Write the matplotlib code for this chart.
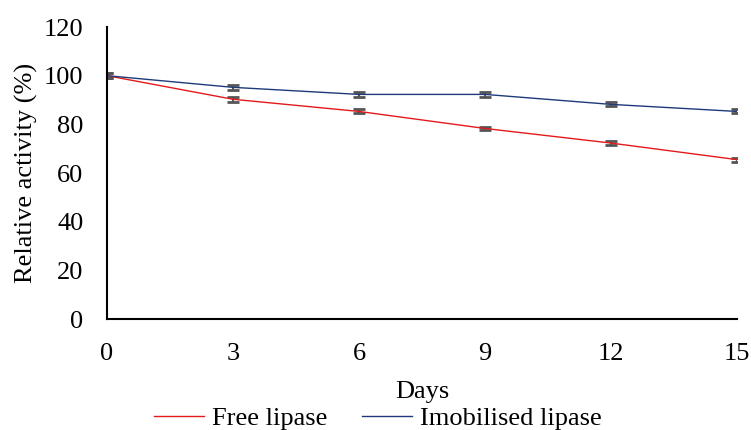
import matplotlib.pyplot as plt

days = [0, 3, 6, 9, 12, 15]
free_lipase = [100, 90.3, 85.3, 78.3, 72.3, 65.5]
free_err = [1.0, 1.0, 0.8, 0.8, 0.8, 0.8]
imob_lipase = [100, 95.2, 92.3, 92.3, 88.2, 85.3]
imob_err = [1.0, 1.0, 1.0, 1.0, 0.8, 0.8]

plt.rcParams["font.family"] = ["Liberation Serif", "DejaVu Serif"]
FS = 19

fig = plt.figure(figsize=(7.51, 4.30), dpi=100)
ax = fig.add_axes([107 / 751, 111 / 430, 630 / 751, 292 / 430])

ax.errorbar(days, free_lipase, yerr=free_err, color="#e31a1c", linewidth=1.0,
            ecolor="#555555", elinewidth=1.5, capsize=4, capthick=2, label="Free lipase")
ax.errorbar(days, imob_lipase, yerr=imob_err, color="#1f3a7a", linewidth=1.0,
            ecolor="#555555", elinewidth=1.5, capsize=4, capthick=2, label="Imobilised lipase")

ax.set_xlim(0, 15)
ax.set_ylim(0, 120)
ax.set_xticks(days)
ax.set_yticks(range(0, 121, 20))
ax.tick_params(axis="y", length=0, labelsize=FS, pad=17)
ax.tick_params(axis="x", length=0, labelsize=FS, pad=17)
for side in ["top", "right"]:
    ax.spines[side].set_visible(False)
for side in ["left", "bottom"]:
    ax.spines[side].set_linewidth(1.5)
    ax.spines[side].set_color("black")

ax.set_xlabel("Days", fontsize=FS, labelpad=12)
ax.set_ylabel("Relative activity (%)", fontsize=FS, labelpad=4)

handles, labels = ax.get_legend_handles_labels()
handles = [h[0] for h in handles]
ax.legend(handles, labels, loc="upper center", bbox_to_anchor=(0.43, -0.255), ncol=2,
          frameon=False, fontsize=FS, handlelength=1.9, handletextpad=0.3, columnspacing=1.3,
          borderpad=0)

fig.savefig("out.png", dpi=100)
